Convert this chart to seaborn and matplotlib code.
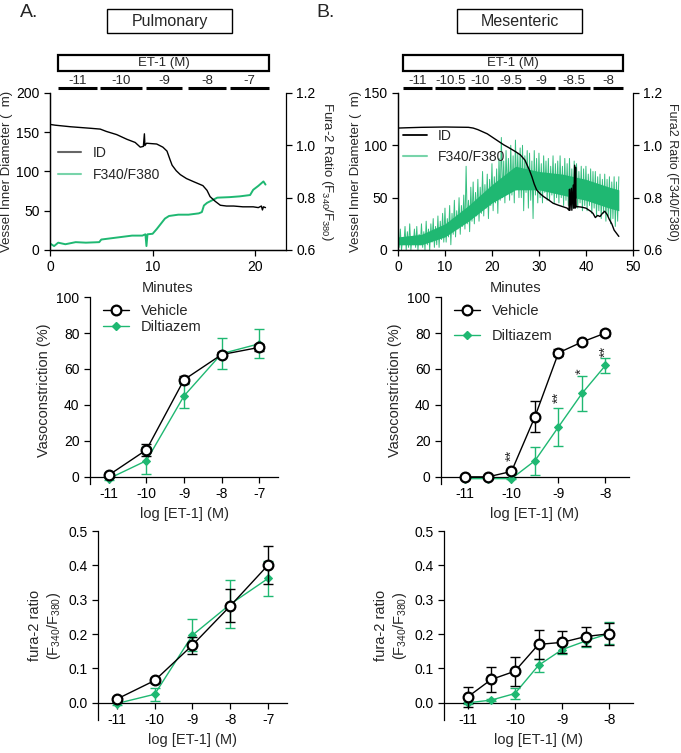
import numpy as np
import matplotlib
matplotlib.use('Agg')
import matplotlib.pyplot as plt
import matplotlib.transforms as mtransforms
from matplotlib.patches import Rectangle
from matplotlib.lines import Line2D
import seaborn as sns

GREEN = '#1fb872'

# ---- raw traces ----
# A: pulmonary, inner diameter (um)
pul_id_t = [0, 0.5, 2, 4, 4.9, 5.5, 6.5, 7.5, 8.3, 8.8, 9.1, 9.2, 9.25, 9.4, 10.4, 11, 11.4, 11.7,
            11.9, 12.3, 12.7, 13.3, 14, 14.9, 15.3, 15.6, 16.1, 16.6, 17.2, 17.9, 18.8, 19.8, 20.3,
            20.6, 20.7, 20.8, 21]
pul_id_v = [160, 159, 157, 155, 154, 151, 147, 141, 137, 131, 132, 148, 133, 136, 135, 131, 126, 115,
            108, 101, 96, 91, 87, 82, 76, 68, 62, 57, 56, 56, 55, 55, 54,
            56, 51, 55, 54]
# A: fura-2 ratio
pul_fr_t = [0, 0.4, 0.8, 1.5, 2.5, 3.5, 4.8, 5, 6, 7, 8, 9, 9.3, 9.4, 9.5, 10, 10.4, 10.8, 11.2,
            11.6, 12.5, 13.5, 14.5, 14.8, 15, 15.3, 15.8, 16.3, 17.5, 18.5, 19.5, 19.8, 20.3, 20.8, 21]
pul_fr_v = [0.625, 0.615, 0.628, 0.622, 0.63, 0.628, 0.63, 0.64, 0.645, 0.65, 0.655, 0.655, 0.66,
            0.615, 0.66, 0.662, 0.68, 0.70, 0.72, 0.73, 0.735, 0.735, 0.74, 0.745, 0.77, 0.78,
            0.79, 0.80, 0.802, 0.805, 0.81, 0.83, 0.845, 0.862, 0.85]

# B: mesenteric, inner diameter (um)
mes_id_t = [0, 2, 5, 10, 15, 16, 17, 18, 19, 20, 21, 22, 22.5, 23.5, 25, 26, 27, 27.5, 28, 28.5, 29,
            29.5, 30.2, 31, 32, 33, 34, 35, 36, 36.4, 36.5, 36.6, 36.9, 37, 37.3, 37.4, 37.6, 37.7,
            37.8, 37.9, 38, 39, 40, 41, 41.5, 42, 42.5, 43, 43.5, 44, 44.5, 45, 45.5, 46, 46.5, 47]
mes_id_v = [116.5, 116.8, 117.2, 117.5, 117.2, 116.5, 115, 113, 111, 108, 105, 102, 100.5, 98, 94,
            91, 86, 81, 76, 70, 63, 57.5, 54, 51, 48, 44.7, 43, 41.5, 40, 38, 58, 38, 59, 38, 62,
            40, 81, 40, 79, 41, 41.5, 41, 40, 37, 35, 31, 33, 32, 35, 37, 34, 29, 25, 19, 16, 13]
# B: fura-2 ratio, peaks and troughs every 0.25 min
mes_fr_t = [i * 0.25 for i in range(189)]
mes_fr_v = [.66, .61, .68, .60, .64, .62, .69, .60,
            .67, .61, .70, .60, .65, .62, .68, .61,
            .69, .60, .66, .62, .70, .61, .67, .60,
            .71, .62, .68, .60, .70, .63, .72, .61,
            .69, .62, .73, .61, .71, .64, .74, .63,
            .76, .63, .72, .65, .77, .62, .74, .66,
            .79, .65, .75, .68, .80, .66, .77, .69,
            .81, .68, .92, .70, .79, .67, .84, .71,
            .86, .70, .82, .73, .87, .71, .84, .74,
            .90, .73, .85, .76, .89, .72, .87, .77,
            .93, .75, .88, .78, .91, .74, .95, .79,
            1.03, .80, .94, .78, .98, .82, .95, .79,
            1.0, .81, .96, .78, 1.02, .83, .97, .80,
            .99, .80, 1.0, .75, .96, .82, .98, .76,
            .97, .79, .94, .72, .98, .81, .95, .78,
            .97, .80, .93, .78, .96, .82, .94, .79,
            .95, .79, .92, .81, .96, .78, .93, .80,
            .94, .78, .96, .80, .92, .77, .95, .79,
            .93, .77, .95, .79, .91, .76, .94, .78,
            .93, .76, .90, .78, .92, .75, .91, .77,
            .92, .75, .89, .77, .91, .74, .90, .76,
            .90, .73, .88, .75, .89, .72, .87, .74,
            .89, .71, .87, .73, .88, .70, .86, .72,
            .88, .69, .86, .71, .88]
mes_core_t = [0, 5, 10, 15, 20, 25, 30, 35, 40, 45, 47]
mes_core_lo = [0.62, 0.62, 0.65, 0.71, 0.78, 0.83, 0.83, 0.81, 0.79, 0.76, 0.75]
mes_core_hi = [0.65, 0.66, 0.70, 0.77, 0.85, 0.92, 0.90, 0.89, 0.87, 0.84, 0.83]

# ET-1 application periods (minutes)
pul_conc = ['-11', '-10', '-9', '-8', '-7']
pul_start = [0.8, 4.9, 9.4, 13.4, 17.5]
pul_end = [4.6, 9.0, 12.9, 17.2, 21.3]
mes_conc = ['-11', '-10.5', '-10', '-9.5', '-9', '-8.5', '-8']
mes_start = [1.06, 7.9, 14.9, 21.1, 27.7, 34.0, 41.5]
mes_end = [7.2, 14.3, 20.2, 27.0, 33.4, 40.9, 47.9]

# ---- concentration-response ----
dose_p = [-11, -10, -9, -8, -7]
veh_vc_p = [1, 15, 54, 68, 72]
veh_vc_p_err = [1, 3.5, 2, 1.5, 2]
dil_vc_p = [-1, 9, 45, 68.5, 74]
dil_vc_p_err = [0.5, 7.5, 6.5, 8.5, 8]

dose_m = [-11, -10.5, -10, -9.5, -9, -8.5, -8]
veh_vc_m = [0, 0, 3, 33.5, 69, 75, 80]
veh_vc_m_err = [0.5, 0.5, 1, 8.7, 2, 1, 1.5]
dil_vc_m = [-1, -1, -1, 9, 27.8, 46.4, 62]
dil_vc_m_err = [0.3, 0.3, 0.3, 7.7, 10.5, 9.6, 4.2]
star_x = [-10, -9, -8.5, -8]
star_y = [11.7, 44, 59, 70]
star_txt = ['**', '**', '*', '**']

veh_fr_p = [0.011, 0.065, 0.168, 0.282, 0.401]
veh_fr_p_err = [0.005, 0.008, 0.025, 0.048, 0.054]
dil_fr_p = [-0.002, 0.025, 0.197, 0.287, 0.362]
dil_fr_p_err = [0.003, 0.019, 0.046, 0.07, 0.052]

veh_fr_m = [0.017, 0.068, 0.092, 0.170, 0.176, 0.193, 0.201]
veh_fr_m_err = [0.03, 0.036, 0.042, 0.042, 0.032, 0.028, 0.032]
dil_fr_m = [0.0, 0.008, 0.027, 0.109, 0.155, 0.180, 0.202]
dil_fr_m_err = [0.003, 0.003, 0.015, 0.018, 0.012, 0.017, 0.032]

sns.set_theme(style='ticks')
plt.rcParams['font.family'] = ['Liberation Sans', 'DejaVu Sans']
plt.rcParams.update({
    'font.size': 10, 'axes.labelsize': 10.5, 'xtick.labelsize': 10, 'ytick.labelsize': 10,
    'axes.linewidth': 0.9, 'xtick.major.width': 0.9, 'ytick.major.width': 0.9,
    'xtick.major.size': 4, 'ytick.major.size': 4, 'axes.edgecolor': 'black',
    'xtick.color': 'black', 'ytick.color': 'black', 'mathtext.default': 'regular',
})

fig = plt.figure(figsize=(6.81, 7.53), dpi=100)


def period_bar(ax, conc, start, end):
    tr = mtransforms.blended_transform_factory(ax.transData, ax.transAxes)
    ax.add_patch(Rectangle((start[0], 1.14), end[-1] - start[0], 0.10, transform=tr,
                           fill=False, lw=1.6, ec='black', clip_on=False))
    ax.text((start[0] + end[-1]) / 2, 1.19, 'ET-1 (M)', transform=tr, ha='center', va='center',
            fontsize=9.5)
    for c, s, e in zip(conc, start, end):
        ax.plot([s, e], [1.032, 1.032], transform=tr, color='black', lw=2.2, clip_on=False,
                solid_capstyle='butt')
        ax.text((s + e) / 2, 1.078, c, transform=tr, ha='center', va='center', fontsize=9.5)


def trace_axes(rect, xmax, ymax, rlabel, rpad, rsize):
    ax = fig.add_axes(rect)
    ax2 = ax.twinx()
    ax.set_zorder(ax2.get_zorder() + 1)
    ax.patch.set_visible(False)
    ax.set_xlim(0, xmax)
    ax.set_ylim(0, ymax)
    ax2.set_ylim(0.6, 1.2)
    ax2.set_yticks([0.6, 0.8, 1.0, 1.2])
    for a in (ax, ax2):
        a.spines['top'].set_visible(False)
    ax.spines['right'].set_visible(False)
    ax.set_xlabel('Minutes', labelpad=5)
    ax.set_ylabel('Vessel Inner Diameter (  m)', labelpad=2, fontsize=9.5)
    ax2.set_ylabel(rlabel, rotation=270, labelpad=rpad, fontsize=rsize)
    return ax, ax2


# ---- A top ----
axA, axA2 = trace_axes([0.0734, 0.668, 0.3466, 0.2085], 23, 200,
                       'Fura-2 Ratio (F$_{340}$/F$_{380}$)', 14, 9.5)
axA.set_yticks([0, 50, 100, 150, 200])
axA.set_xticks([0, 10, 20])
sns.lineplot(x=pul_fr_t, y=pul_fr_v, ax=axA2, color=GREEN, lw=1.4, estimator=None, sort=False)
sns.lineplot(x=pul_id_t, y=pul_id_v, ax=axA, color='black', lw=1.0, estimator=None, sort=False)
period_bar(axA, pul_conc, pul_start, pul_end)
axA.legend(handles=[Line2D([], [], color='black', alpha=0.6, lw=1.5),
                    Line2D([], [], color=GREEN, alpha=0.6, lw=1.5)],
           labels=['ID', 'F340/F380'], frameon=False, loc='upper left',
           bbox_to_anchor=(-0.02, 0.745), handlelength=1.7, fontsize=10, labelspacing=0.6)

# ---- B top ----
axB, axB2 = trace_axes([0.5844, 0.668, 0.345, 0.2085], 50, 150,
                       'Fura2 Ratio (F340/F380)', 11, 9)
axB.set_yticks([0, 50, 100, 150])
axB.set_xticks([0, 10, 20, 30, 40, 50])
axB2.fill_between(mes_core_t, mes_core_lo, mes_core_hi, color=GREEN, lw=0)
sns.lineplot(x=mes_fr_t, y=mes_fr_v, ax=axB2, color=GREEN, lw=0.7, alpha=0.9,
             estimator=None, sort=False)
sns.lineplot(x=mes_id_t, y=mes_id_v, ax=axB, color='black', lw=1.0, estimator=None, sort=False)
period_bar(axB, mes_conc, mes_start, mes_end)
axB.legend(handles=[Line2D([], [], color='black', lw=1.3),
                    Line2D([], [], color=GREEN, alpha=0.6, lw=1.5)],
           labels=['ID', 'F340/F380'], frameon=False, loc='upper left',
           bbox_to_anchor=(-0.03, 0.85), handlelength=1.7, fontsize=10, labelspacing=0.5)


def dose_axes(rect, dose, veh, veh_err, dil, dil_err, ylim, yticks, ylabel, fmt=None):
    ax = fig.add_axes(rect)
    ax.errorbar(dose, dil, yerr=dil_err, fmt='none', ecolor=GREEN, elinewidth=1, capsize=3.5,
                capthick=1, zorder=2)
    sns.lineplot(x=dose, y=dil, ax=ax, color=GREEN, lw=1, marker='D', markersize=4.5,
                 markeredgecolor=GREEN, estimator=None, zorder=3)
    ax.errorbar(dose, veh, yerr=veh_err, fmt='none', ecolor='black', elinewidth=1, capsize=3.5,
                capthick=1, zorder=4)
    sns.lineplot(x=dose, y=veh, ax=ax, color='black', lw=1, marker='o', markersize=7,
                 markerfacecolor='white', markeredgecolor='black', markeredgewidth=1.6,
                 estimator=None, zorder=5)
    ax.set_xlim(dose[0] - 0.5, dose[-1] + 0.5)
    ax.set_ylim(*ylim)
    ax.set_yticks(yticks)
    ax.set_xticks([d for d in dose if float(d).is_integer()])
    ax.set_xticklabels([str(int(d)) for d in dose if float(d).is_integer()])
    if fmt:
        ax.set_yticklabels([fmt.format(v) for v in yticks])
    ax.spines['top'].set_visible(False)
    ax.spines['right'].set_visible(False)
    ax.spines['bottom'].set_position(('data', 0))
    ax.set_xlabel('log [ET-1] (M)')
    ax.set_ylabel(ylabel)
    return ax


vc_ticks = [0, 20, 40, 60, 80, 100]
fr_ticks = [0, 0.1, 0.2, 0.3, 0.4, 0.5]
fr_label = 'fura-2 ratio\n(F$_{340}$/F$_{380}$)'

axC = dose_axes([0.1322, 0.3572, 0.276, 0.2483], dose_p, veh_vc_p, veh_vc_p_err,
                dil_vc_p, dil_vc_p_err, (-4, 100), vc_ticks, 'Vasoconstriction (%)')
axD = dose_axes([0.6476, 0.3572, 0.276, 0.2483], dose_m, veh_vc_m, veh_vc_m_err,
                dil_vc_m, dil_vc_m_err, (-4, 100), vc_ticks, 'Vasoconstriction (%)')
for x, y, s in zip(star_x, star_y, star_txt):
    axD.text(x, y, s, rotation=90, ha='center', va='center', fontsize=10.5)
axE = dose_axes([0.1439, 0.0438, 0.2775, 0.251], dose_p, veh_fr_p, veh_fr_p_err,
                dil_fr_p, dil_fr_p_err, (-0.05, 0.5), fr_ticks, fr_label, fmt='{:.1f}')
axF = dose_axes([0.652, 0.0438, 0.2775, 0.251], dose_m, veh_fr_m, veh_fr_m_err,
                dil_fr_m, dil_fr_m_err, (-0.05, 0.5), fr_ticks, fr_label, fmt='{:.1f}')

leg_handles = [Line2D([], [], color='black', lw=1, marker='o', markersize=7,
                      markerfacecolor='white', markeredgewidth=1.6),
               Line2D([], [], color=GREEN, lw=1, marker='D', markersize=4.5)]
axC.legend(handles=leg_handles, labels=['Vehicle', 'Diltiazem'], frameon=False, loc='upper left',
           bbox_to_anchor=(0.0, 1.035), handlelength=1.8, fontsize=10.5, labelspacing=0.15)
axD.legend(handles=leg_handles, labels=['Vehicle', 'Diltiazem'], frameon=False, loc='upper left',
           bbox_to_anchor=(0.0, 1.035), handlelength=1.8, fontsize=10.5, labelspacing=0.8)

# headers
for cx, name in [(0.249, 'Pulmonary'), (0.763, 'Mesenteric')]:
    fig.add_artist(Rectangle((cx - 0.0918, 0.956), 0.1836, 0.0319, transform=fig.transFigure,
                             fill=False, lw=1.0, ec='black'))
    fig.text(cx, 0.972, name, ha='center', va='center', fontsize=11.5)
fig.text(0.03, 0.984, 'A.', ha='left', va='center', fontsize=14)
fig.text(0.465, 0.984, 'B.', ha='left', va='center', fontsize=14)

fig.savefig('out.png', dpi=100)
